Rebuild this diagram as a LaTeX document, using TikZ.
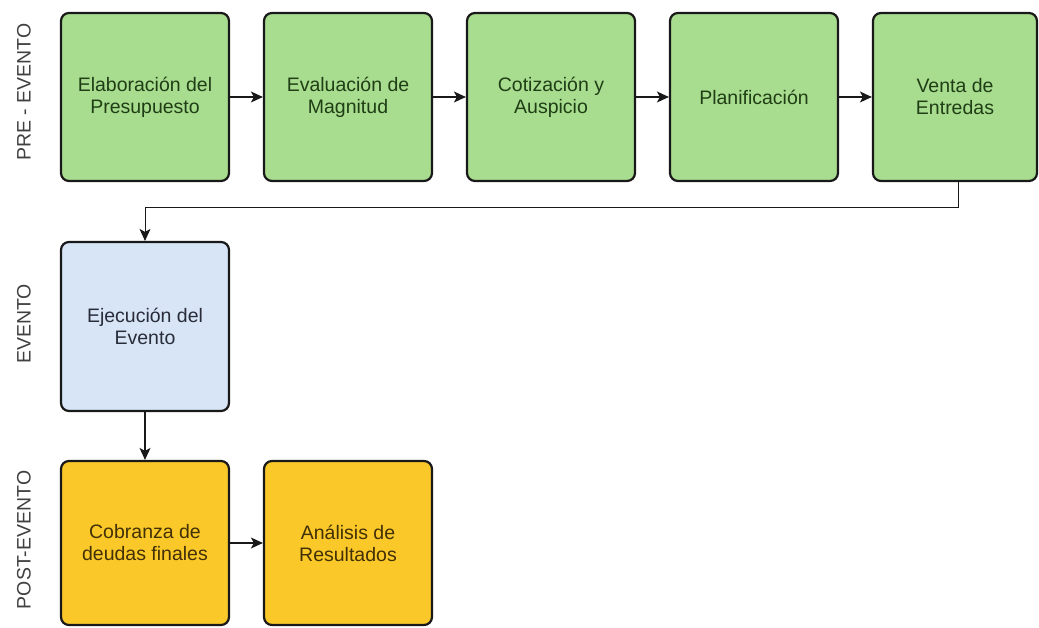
\documentclass[tikz,border=0pt]{standalone}
\usepackage{fontspec}
\setmainfont{Liberation Sans}
\usetikzlibrary{arrows.meta}

\definecolor{stepgreen}{RGB}{168,220,142}
\definecolor{stepblue}{RGB}{216,229,246}
\definecolor{stepyellow}{RGB}{250,200,40}
\definecolor{txtgreen}{RGB}{32,62,22}
\definecolor{txtblue}{RGB}{40,44,56}
\definecolor{txtyellow}{RGB}{66,48,6}

\tikzset{
  stepbox/.style={draw=black!90, line width=2.2pt, rounded corners=8pt,
    minimum width=168pt, minimum height=168pt, align=center, inner sep=2pt,
    font=\fontsize{19.5}{22}\selectfont},
  greenbox/.style={stepbox, fill=stepgreen, text=txtgreen},
  bluebox/.style={stepbox, fill=stepblue, text=txtblue},
  yellowbox/.style={stepbox, fill=stepyellow, text=txtyellow},
  phase/.style={rotate=90, font=\fontsize{19.5}{22}\selectfont, text=black!75},
  flow/.style={draw=black!90, line width=1.3pt,
    -{Stealth[length=12pt,width=11pt,inset=3pt]}}
}

\begin{document}
\begin{tikzpicture}[x=1pt,y=1pt]
  \useasboundingbox (0,0) rectangle (1039,-628);

  % phase labels
  \node[phase] (lpre)  at (24,-92)  {PRE - EVENTO};
  \node[phase] (lev)   at (24,-324) {EVENTO};
  \node[phase] (lpost) at (24,-540) {POST-EVENTO};

  % pre-event steps
  \node[greenbox] (g1) at (145,-97) {Elaboración del\\Presupuesto};
  \node[greenbox] (g2) at (348,-97) {Evaluación de\\Magnitud};
  \node[greenbox] (g3) at (551,-97) {Cotización y\\Auspicio};
  \node[greenbox] (g4) at (754,-97) {Planificación};
  \node[greenbox, minimum width=164pt] (g5) at (955,-97) {Venta de\\Entredas};

  % event
  \node[bluebox, minimum height=169pt] (b1) at (145,-326.5) {Ejecución del\\Evento};

  % post-event
  \node[yellowbox, minimum height=164pt] (y1) at (145,-543) {Cobranza de\\deudas finales};
  \node[yellowbox, minimum height=164pt] (y2) at (348,-543) {Análisis de\\Resultados};

  % connectors
  \draw[flow] (g1.east) -- (g2.west);
  \draw[flow] (g2.east) -- (g3.west);
  \draw[flow] (g3.east) -- (g4.west);
  \draw[flow] (g4.east) -- (g5.west);
  \draw[flow, line width=1pt] ([xshift=3pt]g5.south) -- ++(0,-25) -| (b1.north);
  \draw[flow] (b1.south) -- (y1.north);
  \draw[flow] (y1.east) -- (y2.west);
\end{tikzpicture}
\end{document}
